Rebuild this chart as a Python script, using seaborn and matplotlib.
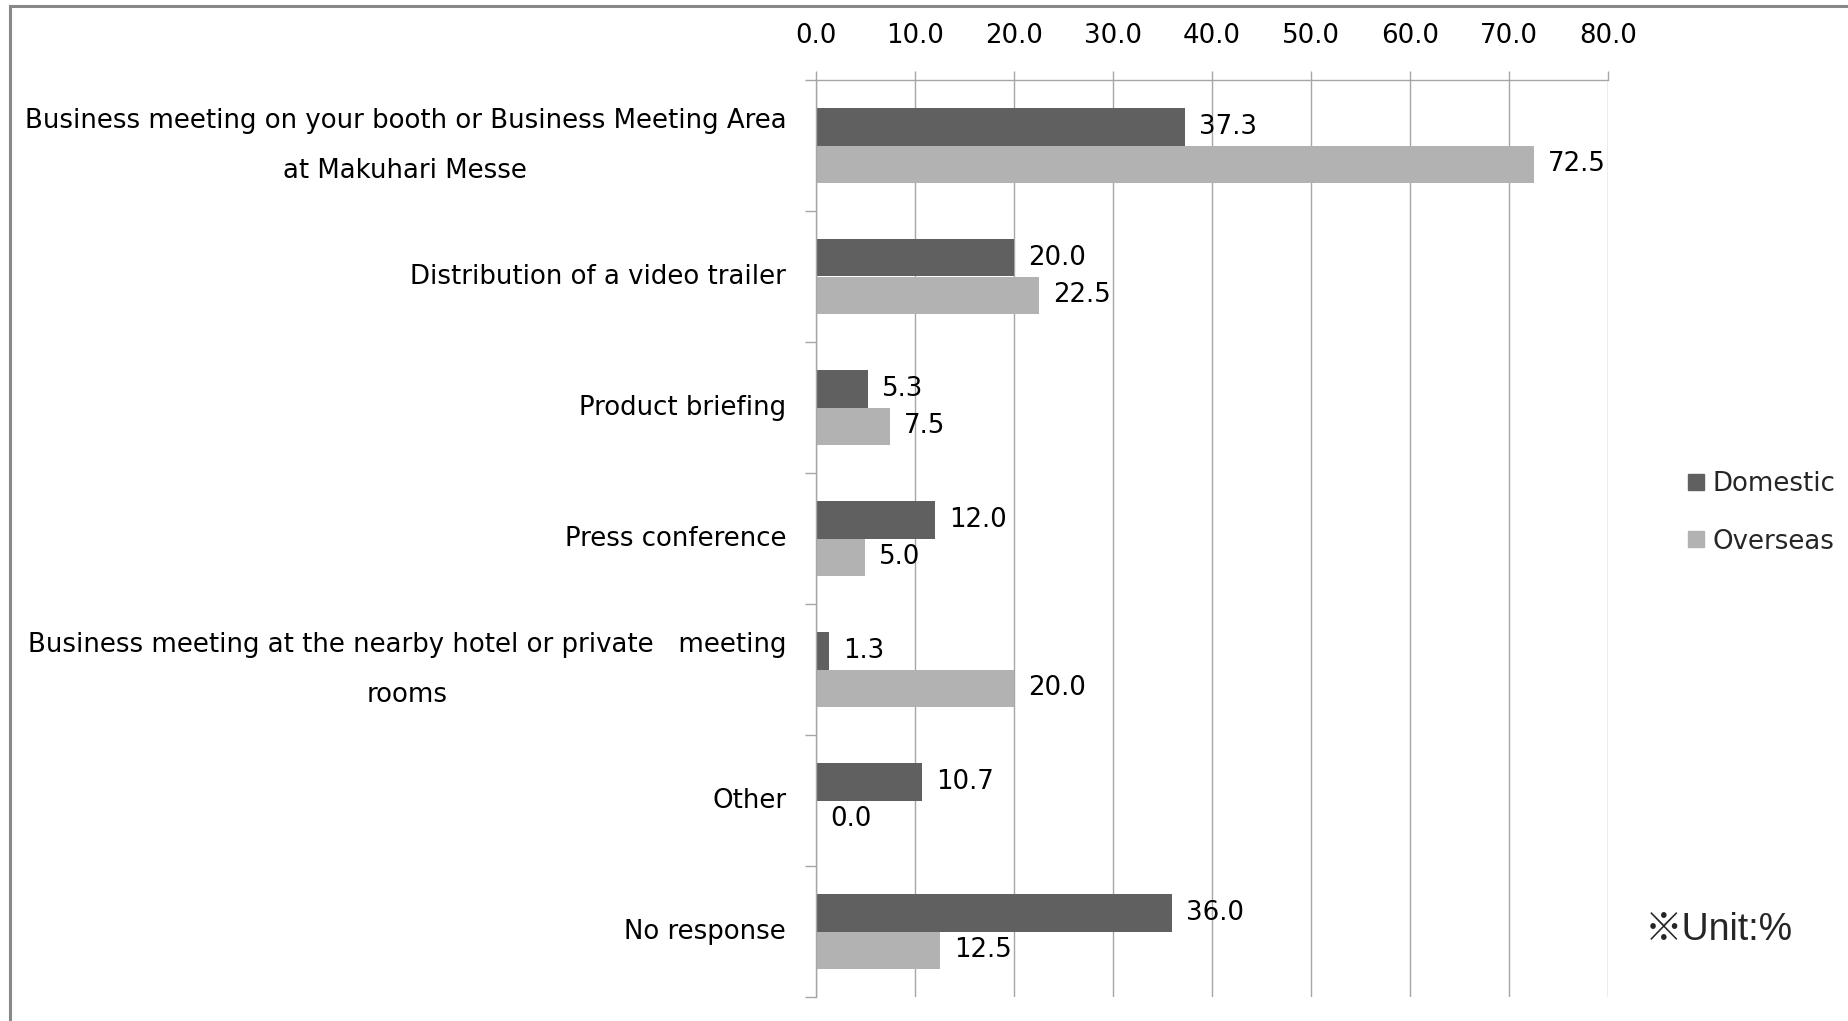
import numpy as np
import pandas as pd
import matplotlib
matplotlib.use("Agg")
import matplotlib.pyplot as plt
import seaborn as sns
from matplotlib.lines import Line2D
from matplotlib.patches import Rectangle

# ---- data -------------------------------------------------------------
categories = [
    "Business meeting on your booth or Business Meeting Area\nat Makuhari Messe",
    "Distribution of a video trailer",
    "Product briefing",
    "Press conference",
    "Business meeting at the nearby hotel or private   meeting\nrooms",
    "Other",
    "No response",
]
domestic = [37.3, 20.0, 5.3, 12.0, 1.3, 10.7, 36.0]
overseas = [72.5, 22.5, 7.5, 5.0, 20.0, 0.0, 12.5]
series_names = ["Domestic", "Overseas"]
series_colors = ["#606060", "#B2B2B2"]
x_ticks = [0, 10, 20, 30, 40, 50, 60, 70, 80]
unit_note = "※Unit:%"

# ---- styling ----------------------------------------------------------
sns.set_theme(style="white")
plt.rcParams["font.family"] = ["DejaVu Sans", "Noto Sans CJK JP"]
GRID = "#A6A6A6"
FS = 18.7

df = pd.DataFrame({
    "category": categories * 2,
    "value": domestic + overseas,
    "series": [series_names[0]] * len(categories) + [series_names[1]] * len(categories),
})

fig = plt.figure(figsize=(18.49, 10.21), dpi=100)
ax = fig.add_axes([816 / 1849, 1 - 997 / 1021, (1608 - 816) / 1849, (997 - 80) / 1021])

sns.barplot(
    data=df, y="category", x="value", hue="series",
    order=categories, hue_order=series_names, palette=series_colors,
    orient="h", width=0.576, saturation=1, errorbar=None,
    edgecolor="none", linewidth=0, legend=False, ax=ax,
)

for cont in ax.containers:
    ax.bar_label(cont, fmt="%.1f", padding=10, fontsize=FS, color="black")

ax.set_xlim(0, 80)
ax.set_ylim(6.5, -0.5)
ax.set_xlabel("")
ax.set_ylabel("")

# value axis on top
ax.xaxis.tick_top()
ax.set_xticks(x_ticks)
ax.set_xticklabels([f"{v:.1f}" for v in x_ticks], fontsize=FS)
ax.tick_params(axis="x", which="major", top=True, bottom=False, length=6.5,
               width=1, color=GRID, direction="out", pad=16, labelcolor="black")
ax.grid(axis="x", color=GRID, linewidth=1)
ax.grid(axis="y", visible=False)
ax.set_axisbelow(True)

# category axis: boundary ticks, centred multi-line labels
ax.set_yticks(np.arange(-0.5, len(categories), 1.0), minor=True)
ax.tick_params(axis="y", which="minor", left=True, length=8, width=1,
               color=GRID, direction="out")
ax.tick_params(axis="y", which="major", left=True, length=0, pad=21.5,
               labelsize=FS, labelcolor="black")
for lbl in ax.get_yticklabels():
    lbl.set_multialignment("center")
    lbl.set_linespacing(2.2)
    lbl.set_verticalalignment("center")

for side in ["right", "bottom"]:
    ax.spines[side].set_visible(False)
for side in ["left", "top"]:
    ax.spines[side].set_color(GRID)
    ax.spines[side].set_linewidth(1)

# legend
handles = [Line2D([], [], linestyle="none", marker="s", markersize=11,
                  markerfacecolor=c, markeredgecolor=c) for c in series_colors]
fig.legend(handles, series_names, loc="center left",
           bbox_to_anchor=(1674 / 1849, 1 - 513 / 1021), frameon=False,
           fontsize=FS, handlelength=0.7, handletextpad=0.3, labelspacing=1.2,
           borderpad=0)

fig.text(1645 / 1849, 1 - 930 / 1021, unit_note, fontsize=27, va="center",
         ha="left", family=["Liberation Sans", "Noto Sans CJK JP"])

# outer frame
fig.patches.append(Rectangle((10 / 1849, -0.05), 1.2, 1 - 6 / 1021 + 0.05,
                             transform=fig.transFigure, fill=False,
                             edgecolor="#888888", linewidth=2.2, zorder=10))

fig.savefig("out.png", dpi=100, facecolor="white")
